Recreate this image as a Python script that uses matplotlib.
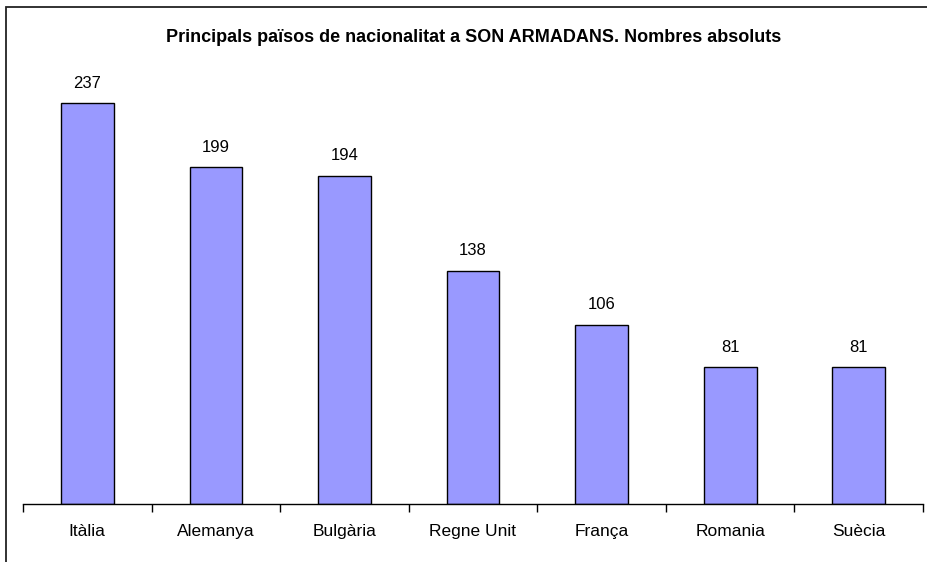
import matplotlib.pyplot as plt
from matplotlib.patches import Rectangle

# Country counts
countries = ['Itàlia', 'Alemanya', 'Bulgària', 'Regne Unit', 'França', 'Romania', 'Suècia']
values = [237, 199, 194, 138, 106, 81, 81]
title = 'Principals països de nacionalitat a SON ARMADANS. Nombres absoluts'

plt.rcParams['font.family'] = ['Liberation Sans', 'DejaVu Sans']

W, H = 927, 562
fig = plt.figure(figsize=(W / 100, H / 100), dpi=100)

# Outer chart frame (cropped on right and bottom)
fig.patches.append(Rectangle((6 / W, -0.1), 1.2, 1 - 7 / H + 0.1, transform=fig.transFigure,
                             fill=False, edgecolor='#222222', linewidth=1.3))

bottom_px = 504
scale = 1.692  # pixels per unit
ymax = 270
ax = fig.add_axes([23 / W, (H - bottom_px) / H, 900 / W, ymax * scale / H])

x = list(range(len(countries)))
bars = ax.bar(x, values, width=0.41, color='#9999FF', edgecolor='black', linewidth=1.0)

for xi, v in zip(x, values):
    ax.annotate(str(v), (xi, v), xytext=(0, 11), textcoords='offset points',
                ha='center', va='baseline', fontsize=12)

ax.set_xlim(-0.5, len(countries) - 0.5)
ax.set_ylim(0, ymax)

# Boundary ticks between categories, labels centred under bars
ax.set_xticks([i - 0.5 for i in range(len(countries) + 1)])
ax.set_xticklabels([])
ax.tick_params(axis='x', which='major', length=6, width=1, direction='out', color='black')
ax.set_xticks(x, minor=True)
ax.set_xticklabels(countries, minor=True, fontsize=12.5)
ax.tick_params(axis='x', which='minor', length=0, pad=14.5)
ax.set_yticks([])

for side in ['left', 'right', 'top']:
    ax.spines[side].set_visible(False)
ax.spines['bottom'].set_linewidth(1.0)

fig.text(474 / W, 1 - 42 / H, title, ha='center', va='baseline', fontsize=13, fontweight='bold')

fig.savefig('out.png', dpi=100)
